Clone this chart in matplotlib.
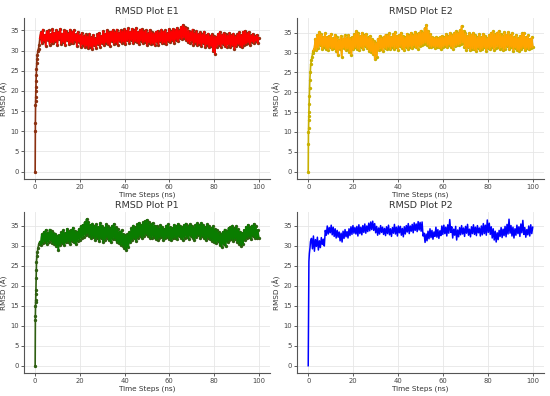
import numpy as np
import matplotlib.pyplot as plt

# initial rise (time in ns, RMSD in A)
e1_rise_t = [0, 0.05, 0.1, 0.15, 0.2, 0.25, 0.3, 0.35, 0.4, 0.5, 0.6, 0.7, 0.8, 1.0, 1.2, 1.5, 1.8, 2.1]
e1_rise_y = [0, 10, 12, 16.5, 17.5, 18.5, 20, 21, 22.5, 24, 25.5, 27, 28, 29, 30, 30.5, 31.5, 33]
e2_rise_t = [0, 0.05, 0.1, 0.15, 0.2, 0.25, 0.3, 0.4, 0.5, 0.6, 0.7, 0.9, 1.1, 1.4, 1.7, 2.0, 2.3]
e2_rise_y = [0, 7, 10, 11, 13, 14, 15, 17, 19, 21, 23, 25, 27, 28, 29, 30, 30.5]
p1_rise_t = [0, 0.05, 0.1, 0.15, 0.2, 0.25, 0.3, 0.35, 0.4, 0.5, 0.6, 0.8, 1.0, 1.3, 1.7, 2.1]
p1_rise_y = [0, 11.5, 12.5, 15, 16, 16.5, 18, 19, 22, 24, 26, 27.5, 28.5, 29.5, 30.5, 31]
p2_rise_t = [0, 0.1, 0.2, 0.3, 0.5, 0.8, 1.0]
p2_rise_y = [0, 10, 20, 26, 28, 29.5, 31]

# plateau values (evenly spaced up to 100 ns)
e1_plateau = [
    34.5, 31.8, 35.2, 32.4, 33.9, 31.2, 34.8, 32.6, 35.0, 31.5, 34.1, 32.0, 35.3, 31.9, 34.4,
    32.3, 35.1, 31.4, 34.6, 32.8, 35.4, 31.7, 34.2, 32.1, 35.0, 31.3, 34.9, 32.5, 34.3, 31.6,
    35.2, 32.0, 34.7, 31.8, 35.1, 32.4, 34.0, 31.1, 34.6, 32.2, 33.8, 30.9, 34.3, 31.5, 33.6,
    30.8, 34.0, 31.2, 33.5, 30.6, 34.2, 31.0, 33.3, 30.4, 33.9, 31.3, 33.1, 30.7, 34.0, 31.6,
    34.4, 31.0, 33.7, 31.8, 34.8, 31.4, 34.2, 32.0, 35.0, 31.6, 34.5, 31.2, 34.7, 32.3, 35.1,
    31.7, 34.6, 32.0, 35.2, 31.5, 34.4, 32.4, 35.0, 31.9, 34.8, 32.2, 35.3, 31.6, 34.9, 32.5,
    35.5, 32.0, 34.7, 32.6, 35.4, 31.8, 35.0, 32.3, 35.6, 32.1, 34.6, 31.7, 35.2, 32.4, 35.3,
    31.9, 34.8, 32.2, 35.0, 31.4, 34.3, 32.0, 35.1, 31.6, 34.5, 31.8, 34.2, 31.3, 34.6, 32.1,
    34.9, 31.5, 34.4, 32.3, 35.2, 31.8, 34.7, 32.0, 35.0, 31.6, 34.3, 32.4, 35.3, 32.1, 34.8,
    32.5, 35.4, 32.0, 35.1, 32.7, 35.6, 32.3, 35.0, 33.0, 35.9, 32.8, 36.3, 33.2, 35.8, 32.6,
    35.5, 32.2, 34.9, 31.8, 34.6, 32.4, 35.2, 31.5, 34.3, 32.0, 34.8, 31.3, 34.1, 31.7, 34.5,
    31.2, 34.0, 31.8, 34.7, 31.0, 33.8, 31.5, 34.2, 30.8, 33.6, 31.1, 34.0, 29.8, 33.5, 29.2,
    33.4, 30.9, 34.1, 31.4, 34.6, 31.0, 33.9, 31.6, 34.3, 31.2, 34.0, 30.8, 33.7, 31.5, 34.4,
    30.9, 33.8, 31.3, 34.2, 30.4, 33.5, 31.1, 34.0, 31.6, 34.5, 31.2, 33.9, 30.8, 34.7, 31.4,
    34.9, 31.7, 34.3, 32.0, 34.6, 31.5, 33.8, 32.2, 34.1, 31.9, 33.5, 32.4, 33.9, 31.8, 33.2,
]
e2_plateau = [
    31.0, 33.5, 30.6, 34.4, 31.2, 35.1, 31.8, 34.6, 30.9, 34.0, 31.5, 34.8, 31.0, 33.9, 30.7,
    34.2, 31.3, 34.7, 30.8, 33.6, 31.1, 34.5, 30.5, 33.8, 29.4, 33.2, 30.9, 34.1, 29.0, 33.5,
    31.2, 34.3, 30.6, 33.7, 31.0, 34.4, 30.2, 33.6, 29.5, 33.9, 30.8, 34.6, 31.3, 35.4, 31.0,
    34.8, 30.7, 34.2, 31.4, 35.0, 30.9, 34.3, 31.6, 34.7, 31.1, 33.8, 30.5, 34.1, 30.2, 33.4,
    29.6, 32.9, 28.3, 32.4, 29.0, 33.5, 30.6, 34.2, 31.0, 33.6, 30.4, 34.0, 31.2, 34.5, 30.9,
    34.3, 31.4, 34.8, 30.8, 33.9, 31.5, 34.6, 31.0, 35.1, 31.3, 34.2, 30.7, 34.4, 31.6, 35.0,
    31.2, 34.1, 30.6, 33.8, 31.4, 34.7, 30.9, 34.3, 31.5, 35.0, 31.1, 34.4, 31.7, 35.2, 31.3,
    34.6, 31.0, 34.9, 31.6, 35.5, 31.9, 35.0, 32.2, 36.1, 32.5, 36.9, 32.0, 35.4, 31.5, 34.7,
    31.4, 33.9, 31.6, 33.7, 31.2, 33.8, 31.5, 33.6, 31.3, 33.9, 31.0, 34.2, 31.4, 33.8, 31.7,
    34.6, 31.3, 34.1, 31.9, 35.0, 31.5, 34.4, 30.9, 34.8, 31.6, 35.3, 31.8, 34.9, 32.0, 35.6,
    32.2, 36.7, 32.5, 35.4, 31.4, 34.8, 30.7, 34.2, 31.3, 34.9, 30.6, 34.5, 31.0, 35.0, 30.8,
    34.3, 30.4, 33.8, 31.2, 34.6, 30.6, 33.9, 30.9, 34.7, 31.3, 34.2, 30.5, 33.6, 31.1, 34.4,
    30.8, 34.9, 31.4, 35.3, 30.7, 34.6, 31.2, 35.0, 31.5, 35.4, 30.9, 34.7, 31.3, 34.2, 30.6,
    35.1, 31.0, 34.5, 31.6, 35.2, 30.8, 34.3, 31.4, 34.9, 30.5, 33.8, 31.2, 34.4, 30.7, 33.6,
    30.4, 34.1, 30.9, 34.8, 31.3, 35.0, 30.6, 33.9, 31.1, 34.3, 30.8, 33.5, 31.2, 33.8, 31.4,
]
p1_plateau = [
    30.2, 32.8, 30.6, 33.4, 31.0, 33.9, 30.4, 33.2, 30.9, 34.0, 31.3, 33.6, 30.7, 33.1, 30.3,
    33.0, 29.8, 32.5, 28.9, 32.7, 30.2, 33.3, 30.6, 33.8, 30.1, 33.2, 30.8, 34.2, 31.0, 33.6,
    30.5, 33.9, 31.2, 34.5, 30.8, 33.7, 30.3, 33.4, 31.1, 34.1, 31.5, 34.8, 31.9, 35.2, 32.2,
    35.8, 32.6, 36.6, 33.0, 35.9, 32.3, 35.2, 31.8, 35.5, 32.1, 34.9, 31.4, 35.3, 31.9, 34.7,
    31.2, 35.6, 31.8, 35.0, 30.9, 34.5, 31.5, 35.3, 32.0, 34.8, 31.3, 34.4, 30.8, 34.9, 31.6,
    35.4, 31.7, 34.6, 31.0, 34.1, 30.6, 33.5, 30.2, 33.8, 30.0, 32.9, 29.4, 32.6, 28.9, 32.8,
    29.6, 33.4, 30.8, 34.3, 31.5, 35.0, 31.8, 34.6, 31.2, 35.3, 32.0, 35.7, 32.4, 35.2, 31.9,
    35.8, 32.3, 36.1, 32.8, 36.4, 32.5, 35.9, 32.0, 35.4, 31.8, 35.6, 32.2, 35.0, 31.6, 34.8,
    31.5, 34.3, 31.9, 35.1, 32.2, 34.7, 31.4, 34.2, 31.8, 35.0, 32.1, 35.3, 31.7, 34.6, 31.3,
    34.4, 31.8, 35.2, 32.0, 34.9, 31.6, 35.4, 32.3, 35.0, 31.9, 34.6, 31.4, 35.1, 32.0, 35.5,
    32.2, 34.8, 31.7, 35.3, 32.4, 35.0, 31.9, 34.5, 31.5, 35.2, 32.1, 35.6, 32.6, 35.1, 32.0,
    35.7, 32.3, 35.2, 31.8, 34.7, 31.4, 35.3, 32.0, 34.9, 31.6, 34.4, 31.2, 34.8, 30.9, 34.1,
    30.6, 33.8, 31.1, 33.3, 30.2, 32.9, 29.6, 33.4, 30.4, 34.0, 29.8, 33.6, 30.9, 34.4, 31.3,
    34.6, 31.6, 35.0, 31.2, 34.3, 31.7, 34.8, 31.0, 34.1, 30.5, 33.5, 30.0, 33.2, 30.3, 33.9,
    31.5, 34.7, 31.9, 35.2, 32.2, 34.6, 31.7, 35.0, 32.4, 35.4, 32.0, 34.8, 31.8, 33.9, 32.0,
]
p2_plateau = [
    31.8, 29.2, 32.4, 28.6, 31.5, 29.8, 32.1, 28.9, 31.2, 29.5, 32.0, 30.3, 31.6, 29.9, 33.8,
    32.6, 34.9, 32.9, 34.5, 33.2, 35.1, 32.7, 34.6, 32.3, 34.2, 31.9, 33.8, 32.1, 33.4, 31.2,
    33.1, 30.9, 33.6, 31.8, 34.0, 32.2, 33.5, 31.9, 34.2, 32.5, 34.7, 32.8, 35.0, 33.1, 34.5,
    32.9, 34.8, 32.4, 35.2, 33.0, 34.6, 32.7, 35.0, 33.3, 35.4, 33.1, 34.9, 33.5, 35.6, 33.7,
    35.9, 34.0, 36.1, 33.8, 35.5, 33.2, 34.8, 32.6, 34.4, 32.9, 35.0, 33.3, 34.6, 32.8, 34.3,
    32.5, 34.7, 33.0, 35.1, 32.7, 34.2, 32.3, 34.5, 33.1, 35.3, 32.9, 34.6, 32.4, 34.9, 33.2,
    34.8, 32.6, 34.3, 32.2, 34.7, 32.9, 35.0, 33.4, 35.5, 33.0, 34.9, 33.6, 35.3, 33.2, 35.7,
    33.8, 35.4, 33.5, 36.0, 33.9, 35.8, 33.6, 35.9, 32.4, 33.1, 30.8, 32.9, 31.2, 33.6, 31.7,
    34.2, 32.0, 33.8, 31.6, 33.4, 32.3, 34.6, 32.1, 34.0, 31.8, 33.7, 32.5, 34.9, 32.8, 35.1,
    33.0, 34.6, 32.4, 35.2, 33.1, 36.5, 33.3, 34.7, 31.9, 34.1, 32.6, 34.8, 31.4, 33.9, 32.2,
    34.5, 32.7, 35.0, 32.9, 34.4, 32.3, 34.8, 33.1, 35.3, 32.6, 34.1, 32.2, 34.7, 33.0, 35.2,
    32.8, 34.6, 32.5, 35.0, 33.2, 34.4, 32.4, 34.9, 32.7, 35.5, 33.0, 35.1, 32.6, 36.4, 33.3,
    35.6, 32.8, 34.7, 31.9, 34.2, 31.4, 33.6, 30.9, 33.2, 31.5, 33.8, 32.3, 34.5, 32.0, 34.1,
    32.5, 34.8, 32.2, 35.3, 32.9, 36.6, 33.1, 35.0, 32.4, 34.6, 31.9, 34.2, 32.6, 35.1, 33.0,
    34.7, 32.3, 35.4, 33.2, 36.3, 32.8, 34.5, 32.1, 34.0, 32.7, 34.9, 32.4, 35.2, 33.0, 34.6,
]

titles = ['RMSD Plot E1', 'RMSD Plot E2', 'RMSD Plot P1', 'RMSD Plot P2']
line_colors = ['#ff0000', '#ffa500', '#0a7d00', '#0000ff']
marker_colors = ['#8b3010', '#c8b000', '#2f5f12', None]


def build(rise_t, rise_y, plateau):
    t0 = rise_t[-1]
    step = (100 - t0) / len(plateau)
    pt = t0 + step * np.arange(1, len(plateau) + 1)
    return np.array(rise_t), np.array(rise_y), pt, np.array(plateau)


series = [
    build(e1_rise_t, e1_rise_y, e1_plateau),
    build(e2_rise_t, e2_rise_y, e2_plateau),
    build(p1_rise_t, p1_rise_y, p1_plateau),
    build(p2_rise_t, p2_rise_y, p2_plateau),
]

fig = plt.figure(figsize=(5.5, 3.96), dpi=100)
boxes = [
    [0.0436, 0.548, 0.447, 0.407],
    [0.540, 0.548, 0.449, 0.407],
    [0.0436, 0.058, 0.447, 0.407],
    [0.540, 0.058, 0.449, 0.407],
]

for i in range(4):
    ax = fig.add_axes(boxes[i])
    rt, ry, pt, py = series[i]
    t = np.concatenate([rt, pt])
    y = np.concatenate([ry, py])
    if marker_colors[i] is None:
        ax.plot(t, y, color=line_colors[i], lw=1.1)
    else:
        ax.plot(t, y, color=marker_colors[i], lw=1.2, marker='o', ms=1.4)
        ax.plot(np.concatenate([rt[-1:], pt]), np.concatenate([ry[-1:], py]),
                color=line_colors[i], lw=1.1)
    ax.set_title(titles[i], fontsize=6.8, color='#333333', pad=3)
    ax.set_xlabel('Time Steps (ns)', fontsize=5.2, color='#333333', labelpad=1)
    ax.set_ylabel('RMSD (Å)', fontsize=5.2, color='#333333', labelpad=2)
    ax.set_xticks([0, 20, 40, 60, 80, 100])
    ax.set_yticks([0, 5, 10, 15, 20, 25, 30, 35])
    ax.tick_params(labelsize=4.9, colors='#444444', length=2, width=0.6, pad=1.5)
    ax.grid(True, color='#e6e6e6', lw=0.6)
    ax.set_axisbelow(True)
    for s in ['top', 'right']:
        ax.spines[s].set_visible(False)
    for s in ['left', 'bottom']:
        ax.spines[s].set_color('#555555')
        ax.spines[s].set_linewidth(0.8)

fig.savefig('out.png', dpi=100)
